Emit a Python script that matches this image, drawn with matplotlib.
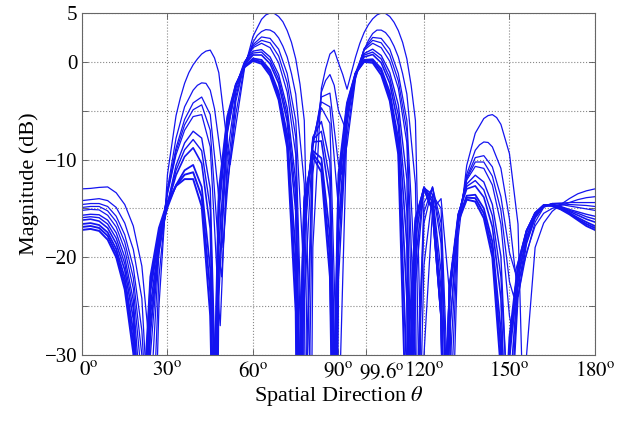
import numpy as np
import matplotlib
matplotlib.use('Agg')
import matplotlib.pyplot as plt
from matplotlib.transforms import ScaledTranslation

# spatial direction grid (deg), every curve sampled on it
theta = np.arange(0, 181, 3)

# magnitude (dB) of each beam pattern, top curve first
c0 = [-13.0, -12.95, -12.85, -12.8, -13.4, -14.6, -16.8, -20.9, -30.2, -25,
      -11.5, -5.5, -2.2, -0.3, 0.8, 1.2, -1.1, -8.5, -6.5, -0.7,
      2.6, 4.35, 5.0, 4.64, 3.2, 0.3, -6.0, -19, -2.7, 0.8,
      -0.1, -2.8, 0.5, 3.0, 4.4, 5.0, 4.64, 3.2, 0.3, -6.0,
      -30, -15.1, -14.0, -23.8, -18.0, -10.6, -7.3, -5.8, -5.4, -6.4,
      -9.4, -16.6, -30, -19, -16.5, -15.3, -14.6, -14.0, -13.5, -13.2,
      -13.0]
c1 = [-14.2, -14.1, -14.0, -14.2, -14.9, -16.5, -19.2, -24.2, -40, -22,
      -13.0, -7.8, -4.6, -2.9, -2.15, -2.9, -8.1, -12.5, -5.3, -0.5,
      2.0, 3.1, 3.25, 2.45, 0.5, -3.3, -12.5, -11.5, -3.1, -1.3,
      -5.0, -5.3, -1.6, 1.2, 2.9, 3.25, 2.45, 0.5, -3.3, -12.5,
      -20.8, -13.6, -15.0, -38, -16.8, -11.5, -9.05, -8.2, -8.7, -10.9,
      -16.1, -24, -19.5, -16.8, -15.5, -15.0, -14.7, -14.4, -14.1, -13.9,
      -13.8]
c2 = [-14.6, -14.5, -14.5, -14.8, -15.8, -17.7, -21.0, -27.5, -35, -19.5,
      -13.2, -8.8, -5.9, -4.2, -3.6, -5.4, -13.8, -13.2, -4.0, -0.2,
      1.75, 2.55, 2.4, 1.3, -1.2, -6.0, -22.4, -8.8, -3.6, -3.2,
      -10.5, -8.5, -1.7, 1.35, 2.5, 2.4, 1.3, -1.2, -6.0, -22.4,
      -16.5, -12.8, -16.5, -32, -16.3, -11.8, -9.8, -9.6, -10.75, -13.8,
      -19.5, -20.5, -17.2, -15.6, -14.8, -14.5, -14.45, -14.4, -14.4, -14.4,
      -14.4]
c8 = [-14.9, -14.8, -14.8, -15.25, -16.35, -18.45, -22.1, -30, -30, -19,
      -13.35, -9.15, -6.45, -4.9, -4.4, -7.0, -19.5, -11.3, -3.55, -0.15,
      1.6, 2.2, 1.95, 0.6, -2.15, -7.7, -38, -8.3, -4.1, -4.6,
      -15, -7.5, -1.4, 1.3, 2.2, 1.95, 0.7, -1.95, -7.1, -30,
      -15.4, -12.8, -17.5, -28, -16.1, -11.95, -10.25, -10.25, -11.7, -15.2,
      -22.5, -21.5, -18.45, -16.0, -14.85, -14.5, -14.5, -14.6, -14.65, -14.7,
      -14.8]
c3 = [-15.2, -15.1, -15.15, -15.7, -16.9, -19.2, -23.2, -32.5, -28, -18.5,
      -13.5, -9.5, -7.0, -5.6, -5.4, -8.7, -25.2, -9.5, -3.1, -0.1,
      1.45, 1.9, 1.45, -0.1, -3.1, -9.5, -24.5, -8.0, -4.7, -6.3,
      -38, -6.4, -1.1, 1.2, 1.9, 1.45, 0.05, -2.7, -8.3, -38,
      -14.4, -12.9, -18.6, -27.4, -15.9, -12.1, -10.7, -10.9, -12.6, -16.6,
      -26, -22.5, -19.7, -16.4, -14.9, -14.5, -14.6, -14.75, -14.9, -15.05,
      -15.2]
c4 = [-15.7, -15.6, -15.65, -16.2, -17.5, -20.0, -24.4, -36, -27, -19.5,
      -14.5, -10.6, -8.3, -7.1, -7.8, -13, -24, -7.3, -2.5, 0.0,
      1.1, 1.25, 0.5, -1.3, -4.7, -12.2, -18.4, -7.7, -6.1, -10.3,
      -22.3, -5.8, -1.25, 0.85, 1.3, 0.65, -1.1, -4.4, -12.0, -22.7,
      -12.9, -13.55, -21.5, -24.6, -15.7, -12.5, -11.6, -12.3, -14.6, -19.9,
      -40, -24.1, -18.6, -15.95, -14.7, -14.55, -14.8, -15.1, -15.35, -15.6,
      -15.8]
c9 = [-15.95, -15.85, -15.95, -16.6, -18.05, -20.65, -25.3, -40, -26, -19,
      -14.55, -11.1, -9.0, -7.95, -9.1, -15.0, -22, -7.05, -2.5, -0.15,
      0.9, 1.0, 0.15, -1.75, -5.4, -13.7, -17, -7.95, -7.1, -12.2,
      -19.5, -5.5, -1.2, 0.7, 1.0, 0.3, -1.65, -5.45, -15.3, -20.3,
      -12.85, -14.0, -23.3, -23.7, -15.65, -12.75, -12.15, -13.1, -15.75, -22,
      -38, -23.1, -18.25, -15.8, -14.7, -14.6, -14.85, -15.2, -15.5, -15.85,
      -16.1]
c5 = [-16.2, -16.1, -16.3, -17.0, -18.6, -21.3, -26.3, -40, -25, -18.5,
      -14.6, -11.6, -9.7, -8.8, -10.4, -17.1, -19, -6.8, -2.5, -0.3,
      0.7, 0.7, -0.2, -2.2, -6.1, -15.3, -15.8, -8.2, -8.1, -14.1,
      -16.8, -5.2, -1.2, 0.5, 0.75, -0.1, -2.2, -6.5, -18.7, -18.0,
      -12.8, -14.4, -25.1, -22.8, -15.6, -13.0, -12.7, -13.85, -16.9, -24.2,
      -34.4, -22.2, -17.9, -15.7, -14.7, -14.65, -14.9, -15.3, -15.7, -16.1,
      -16.4]
c6 = [-16.6, -16.5, -16.7, -17.45, -19.15, -22.1, -27.6, -40, -23.5, -18.0,
      -14.9, -12.6, -11.1, -10.55, -12.8, -21.2, -15.4, -6.2, -2.4, -0.45,
      0.35, 0.2, -0.85, -3.1, -7.4, -19.6, -14.8, -9.1, -9.85, -17.8,
      -13.8, -4.6, -1.2, 0.2, 0.27, -0.7, -3.1, -7.9, -24.1, -16.6,
      -12.9, -15.1, -25.9, -23.1, -16.1, -13.7, -13.6, -15.0, -18.4, -27.6,
      -30.4, -21.2, -17.4, -15.45, -14.65, -14.7, -15.0, -15.45, -15.95, -16.4,
      -16.8]
c10 = [-16.9, -16.8, -17.0, -17.8, -19.6, -22.7, -28.7, -40, -22.75, -17.5,
       -14.6, -12.65, -11.55, -11.3, -13.8, -23.6, -14.3, -5.9, -2.35, -0.5,
       0.22, 0.0, -1.1, -3.5, -8.1, -22.6, -14.35, -9.4, -10.6, -19.9,
       -12.6, -4.4, -1.18, 0.1, 0.1, -1.0, -3.55, -8.7, -32, -16.3,
       -12.95, -15.15, -25.95, -23.15, -16.25, -13.9, -13.95, -15.5, -19.2, -29.6,
       -29.3, -20.95, -17.35, -15.5, -14.7, -14.7, -15.05, -15.5, -16.1, -16.6,
       -17.0]
c7 = [-17.2, -17.1, -17.3, -18.2, -20.0, -23.3, -29.8, -38, -22.0, -17.0,
      -14.3, -12.7, -12.0, -12.0, -14.8, -26.0, -13.2, -5.6, -2.3, -0.55,
      0.1, -0.2, -1.4, -3.9, -8.8, -25.6, -13.9, -9.7, -11.3, -22.0,
      -11.5, -4.2, -1.15, 0.0, -0.1, -1.35, -4.0, -9.5, -40, -16,
      -13, -15.2, -26, -23.2, -16.4, -14.1, -14.3, -16.0, -20.0, -31.7,
      -28.2, -20.7, -17.3, -15.5, -14.7, -14.75, -15.1, -15.6, -16.2, -16.8,
      -17.2]

# extra points between grid points (deg, dB): nulls, notches, lobe tops
c0_extra = [(25.5, -40), (34.5, -3.7), (37.5, -1.1), (40.5, 0.3), (43.5, 1.1),
            (46.5, 0.4), (52, -10.5), (64.5, 4.8), (67.5, 4.95), (70.5, 4.1),
            (73.5, 2.0), (76.5, -2.3), (80.5, -38), (85.5, -0.7), (88.5, 1.2),
            (91.5, -1.3), (97.5, 1.9), (100.5, 3.8), (103.5, 4.8), (106.5, 4.95),
            (109.5, 4.05), (112.5, 2.0), (115.5, -2.4), (119.5, -38), (130, -38),
            (142.5, -5.5), (145.5, -5.7), (155, -38)]
c1_extra = [(24.5, -40), (40.5, -2.4), (43.5, -2.2), (46.5, -4.8), (50.5, -14),
            (61.5, 2.7), (64.5, 3.3), (67.5, 3.0), (70.5, 1.6), (73.5, -1.2),
            (79.5, -38), (85.5, -1.9), (88.5, -2.4), (92, -6.5), (100.5, 2.2),
            (103.5, 3.25), (106.5, 3.0), (109.5, 1.6), (112.5, -1.2),
            (118.5, -38), (139.5, -8.5), (142.5, -8.25)]
c2_extra = [(23.5, -40), (49.5, -19), (78.5, -38), (91, -11.5), (117.5, -38), (128.5, -38), (152, -21.5)]
c8_extra = [(23, -40), (49, -22), (90.5, -16), (117.2, -38), (128.2, -38), (151.5, -24)]
c3_extra = [(22.5, -40), (48.5, -27), (77.5, -38), (128, -38), (151, -27.5)]
c4_extra = [(22, -40), (47.5, -40), (77, -40), (89.5, -40), (116, -40), (127.5, -40)]
c9_extra = [(21.7, -40), (47.2, -40), (76.7, -40), (89.2, -40), (115.5, -40), (127.2, -40)]
c5_extra = [(21.5, -40), (47, -40), (76.5, -40), (89, -40), (115, -40), (127, -40), (149, -40)]
c6_extra = [(46.5, -40), (76, -40), (88.5, -40), (114.5, -40), (127, -40), (148.5, -40)]
c10_extra = [(20.7, -40), (46.2, -40), (75.7, -40), (88.2, -40), (127, -40), (148.2, -40)]
c7_extra = [(20.5, -40), (46, -40), (75.5, -40), (88, -40), (127, -40), (148, -40)]

curves = [(c0, c0_extra, 0.9), (c1, c1_extra, 0.9), (c2, c2_extra, 0.9),
          (c8, c8_extra, 0.9), (c3, c3_extra, 0.9), (c4, c4_extra, 1.0),
          (c9, c9_extra, 1.0), (c5, c5_extra, 1.2), (c6, c6_extra, 1.3),
          (c10, c10_extra, 1.4), (c7, c7_extra, 1.4)]

x_ticks = [0, 30, 60, 90, 99.6, 120, 150, 180]
x_labels = ['0', '30', '60', '90', '99.6', '120', '150', '180']
y_ticks = [5, 0, -5, -10, -15, -20, -25, -30]
y_labels = ['5', '0', '', '\u221210', '', '\u221220', '', '\u221230']

plt.rcParams['font.family'] = ['Liberation Serif', 'DejaVu Serif']
plt.rcParams['mathtext.fontset'] = 'stix'

fig = plt.figure(figsize=(6.18, 4.22), dpi=100)
ax = fig.add_axes([0.1327, 0.1588, 0.830, 0.8104])

for vals, extra, lw in curves:
    x = np.concatenate([theta, [p[0] for p in extra]])
    y = np.concatenate([vals, [p[1] for p in extra]])
    order = np.argsort(x)
    ax.plot(x[order], y[order], color='#1414f0', lw=lw)

ax.set_xlim(0, 180)
ax.set_ylim(-30, 5)
ax.set_xticks(x_ticks)
ax.set_xticklabels([r'$%s^{\mathrm{o}}$' % s for s in x_labels])
ax.set_yticks(y_ticks)
ax.set_yticklabels(y_labels)
ax.tick_params(direction='in', top=True, right=True, length=4, width=0.6,
               labelsize=15, color='#555555')
ax.tick_params(axis='x', pad=5)
ax.grid(True, linestyle=':', color='#888888', lw=0.8)
for sp in ax.spines.values():
    sp.set_color('#666666')
    sp.set_linewidth(0.8)

# labels of 0 and 99.6 sit right of their ticks in the original
xl = ax.get_xticklabels()
xl[0].set_transform(xl[0].get_transform() + ScaledTranslation(0.07, 0, fig.dpi_scale_trans))
xl[4].set_transform(xl[4].get_transform() + ScaledTranslation(0.16, 0, fig.dpi_scale_trans))

ax.set_xlabel(r'Spatial Direction $\theta$', fontsize=16, labelpad=1)
ax.set_ylabel('Magnitude (dB)', fontsize=16, labelpad=4)

fig.savefig('out.png', dpi=100)
